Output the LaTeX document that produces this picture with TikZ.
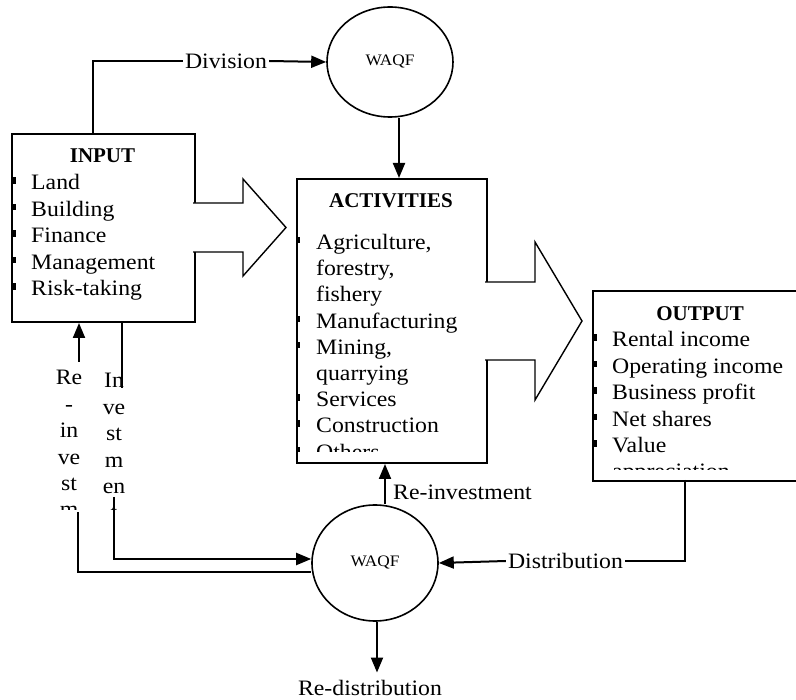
\documentclass[tikz,border=0pt]{standalone}
\usepackage{fontspec}
\setmainfont{Liberation Serif}[FakeStretch=1.08]
\newfontfamily\ttlfont{Liberation Serif}
\usetikzlibrary{arrows.meta,shapes.geometric}
\begin{document}
\begin{tikzpicture}[x=1pt,y=-1pt,
  box/.style={draw, line width=2pt, inner sep=0pt, anchor=north west},
  conn/.style={line width=2pt},
  arr/.style={conn, -{Triangle[length=15pt,width=12pt]}},
  bigarrow/.style={draw, fill=white, line width=1.4pt, line join=miter},
  waqf/.style={draw, ellipse, line width=1.6pt, inner sep=0pt, font=\fontsize{16}{19}\selectfont},
  item/.style={anchor=base west, inner sep=0pt, font=\fontsize{22}{26.4}\selectfont},
  vitem/.style={anchor=base, inner sep=0pt, font=\fontsize{22}{26.4}\selectfont},
  ttl/.style={anchor=base, inner sep=0pt, font=\ttlfont\bfseries\fontsize{21}{24}\selectfont},
  lbl/.style={inner sep=2pt, font=\fontsize{22}{26.4}\selectfont},
]
\useasboundingbox (0,0) rectangle (796,700);
\clip (0,0) rectangle (796,700);

% boxes
\node[box, minimum width=183pt, minimum height=188pt] (inp) at (11,133) {};
\node[box, minimum width=190pt, minimum height=284pt] (act) at (296,178) {};
\node[box, minimum width=228pt, minimum height=190pt] (outp) at (592,290) {};

% ellipses
\node[waqf, minimum width=126pt, minimum height=110pt] (waqf1) at (390,62) {WAQF};
\node[waqf, minimum width=126pt, minimum height=116pt] (waqf2) at (375,563) {WAQF};

% big arrows
\path[bigarrow] (193,203) -- (243,203) -- (243,179) -- (286,227.5) -- (243,276) -- (243,252) -- (193,252);
\path[bigarrow] (485,282) -- (535,282) -- (535,242) -- (582,321) -- (535,400) -- (535,360) -- (485,360);

% titles
\node[ttl] (tin) at (102.5,163) {INPUT};
\node[ttl] (tact) at (391,208) {ACTIVITIES};
\node[ttl] (tout) at (700,321) {OUTPUT};

% input list
\foreach \t [count=\i] in {Land,Building,Finance,Management,Risk-taking} {
  \node[item] (in\i) at (31,{163.6+26.4*\i}) {\t};
  \fill (11.5,{163.6+26.4*\i-12.5}) rectangle ++(4,6.5);
}

% activities list
\begin{scope}
\clip (296,178) rectangle (486,452);
\foreach \t [count=\i] in {{Agriculture,},{forestry,},fishery,Manufacturing,{Mining,},quarrying,Services,Construction,Others} {
  \node[item] (ac\i) at (316,{223.3+26.2*\i}) {\t};
}
\foreach \i in {1,4,5,7,8,9} {
  \fill (296,{223.3+26.2*\i-12.5}) rectangle ++(4,6.5);
}
\end{scope}

% output list
\begin{scope}
\clip (592,290) rectangle (800,469.5);
\foreach \t [count=\i] in {Rental income,Operating income,Business profit,Net shares,Value,appreciation} {
  \node[item] (ou\i) at (612,{320.6+26.4*\i}) {\t};
}
\foreach \i in {1,...,5} {
  \fill (592.5,{320.6+26.4*\i-12.5}) rectangle ++(4,6.5);
}
\end{scope}

% vertical split labels
\begin{scope}
\clip (40,340) rectangle (140,509.5);
\foreach \t [count=\i] in {Re,-,in,ve,st,m} {
  \node[vitem] (ri\i) at (69,{358.6+26.4*\i}) {\t};
}
\foreach \t [count=\i] in {In,ve,st,m,en,t} {
  \node[vitem] (iv\i) at (114,{361.6+26.4*\i}) {\t};
}
\end{scope}

% labels
\node[lbl] (div) at (226,61) {Division};
\node[lbl] (dist) at (565.5,561) {Distribution};
\node[item] (rinv) at (393,500) {Re-investment};
\node[vitem] (redis) at (370,695) {Re-distribution};

% coordinates for free ends
\coordinate (d0) at (93,133);
\coordinate (r0) at (79,362);
\coordinate (r1) at (78,512);
\coordinate (v0) at (122,388);
\coordinate (v1) at (114,497);
\coordinate (oB) at (685,480);

% connectors
\draw[conn] (d0) |- (div.west);
\draw[arr] (div.east) -- (waqf1.west);
\draw[arr] ([xshift=9pt]waqf1.south) -- ([xshift=9pt]waqf1.south |- act.north);
\draw[arr] ([xshift=10pt]waqf2.north) -- ([xshift=10pt]waqf2.north |- act.south);
\draw[arr] ([xshift=2pt]waqf2.south) -- ([xshift=2pt,yshift=7pt]waqf2.south |- redis.north);
\draw[conn] (oB) |- (dist.east);
\draw[arr] (dist.west) -- (waqf2.east);
\draw[arr] (r0) -- (r0 |- inp.south);
\draw[conn] (r1) |- ([yshift=-9pt]waqf2.west);
\draw[conn] (v0 |- inp.south) -- (v0);
\draw[arr] (v1) |- ([yshift=4pt]waqf2.west);
\end{tikzpicture}
\end{document}
